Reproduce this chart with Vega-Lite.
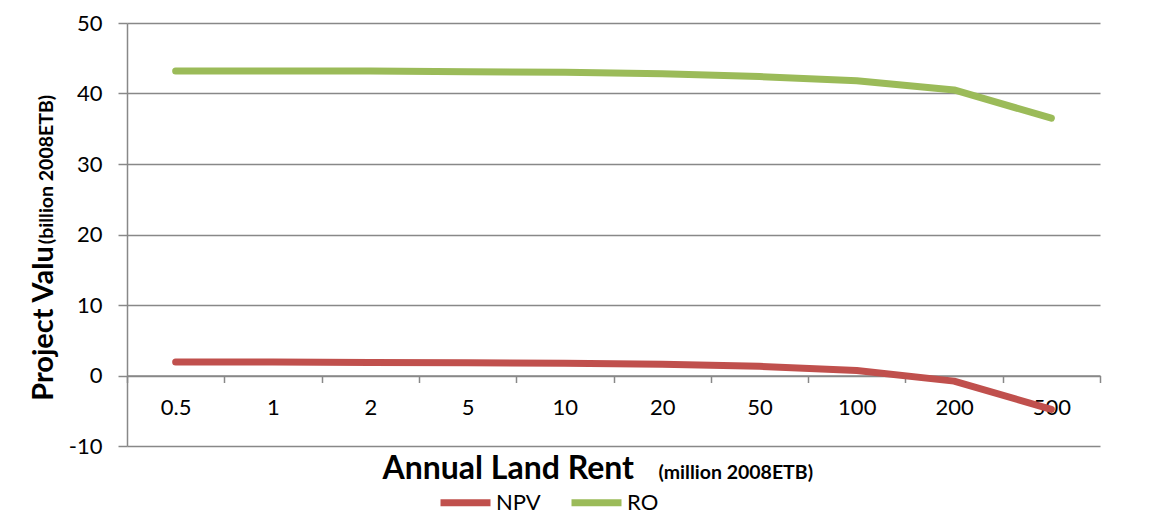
{
  "$schema": "https://vega.github.io/schema/vega-lite/v6.json",
  "width": 973,
  "height": 423,
  "autosize": {"type": "none"},
  "padding": {"left": 127, "top": 23, "right": 54, "bottom": 74},
  "background": "white",
  "config": {
    "view": {"stroke": null},
    "font": "Lato",
    "axis": {
      "labelFont": "Lato",
      "titleFont": "Lato",
      "labelColor": "#000000",
      "titleColor": "#000000",
      "domainColor": "#888888",
      "tickColor": "#888888",
      "gridColor": "#888888",
      "domainWidth": 1.5,
      "tickWidth": 1.5,
      "gridWidth": 1.5
    }
  },
  "data": {
    "values": [
      {"rent": "0.5", "series": "NPV", "value": 1.9},
      {"rent": "1", "series": "NPV", "value": 1.9},
      {"rent": "2", "series": "NPV", "value": 1.85},
      {"rent": "5", "series": "NPV", "value": 1.8},
      {"rent": "10", "series": "NPV", "value": 1.75},
      {"rent": "20", "series": "NPV", "value": 1.6},
      {"rent": "50", "series": "NPV", "value": 1.3},
      {"rent": "100", "series": "NPV", "value": 0.7},
      {"rent": "200", "series": "NPV", "value": -0.8},
      {"rent": "500", "series": "NPV", "value": -4.8},
      {"rent": "0.5", "series": "RO", "value": 43.2},
      {"rent": "1", "series": "RO", "value": 43.2},
      {"rent": "2", "series": "RO", "value": 43.2},
      {"rent": "5", "series": "RO", "value": 43.1},
      {"rent": "10", "series": "RO", "value": 43.0},
      {"rent": "20", "series": "RO", "value": 42.8},
      {"rent": "50", "series": "RO", "value": 42.4},
      {"rent": "100", "series": "RO", "value": 41.8},
      {"rent": "200", "series": "RO", "value": 40.5},
      {"rent": "500", "series": "RO", "value": 36.5}
    ]
  },
  "layer": [
    {
      "transform": [{"filter": "datum.series === 'NPV'"}],
      "mark": {"type": "line", "strokeWidth": 7, "strokeCap": "round", "strokeJoin": "round"},
      "encoding": {
        "x": {
          "field": "rent",
          "type": "ordinal",
          "sort": ["0.5", "1", "2", "5", "10", "20", "50", "100", "200", "500"],
          "bandPosition": 0.5,
          "scale": {"type": "band", "paddingInner": 0, "paddingOuter": 0},
          "axis": {
            "orient": "bottom",
            "offset": -70.5,
            "labelAngle": 0,
            "labelFontSize": 22,
            "labelPadding": 15,
            "tickSize": 7,
            "tickBand": "extent",
            "grid": false,
            "title": "Annual Land Rent",
            "titleFontSize": 32,
            "titleFontWeight": "bold",
            "titleAlign": "left",
            "titleBaseline": "alphabetic",
            "titleX": 255,
            "titleY": 102.5
          }
        },
        "y": {
          "field": "value",
          "type": "quantitative",
          "scale": {"domain": [-10, 50], "nice": false, "zero": false},
          "axis": {
            "orient": "left",
            "values": [-10, 0, 10, 20, 30, 40, 50],
            "labelExpr": "datum.value < 0 ? '-' + abs(datum.value) : datum.label",
            "grid": true,
            "labelFontSize": 22,
            "labelPadding": 16,
            "tickSize": 9,
            "title": "Project Valu",
            "titleFontSize": 29,
            "titleFontWeight": "bold",
            "titleAngle": -90,
            "titleAlign": "center",
            "titleBaseline": "alphabetic",
            "titleX": -75,
            "titleY": 300
          }
        },
        "color": {
          "field": "series",
          "type": "nominal",
          "scale": {"domain": ["NPV", "RO"], "range": ["#C0504D", "#9BBB59"]},
          "legend": {
            "title": null,
            "orient": "none",
            "direction": "horizontal",
            "legendX": 310,
            "legendY": 451,
            "symbolType": "stroke",
            "symbolSize": 2500,
            "symbolStrokeWidth": 7,
            "labelFont": "Lato",
            "labelFontSize": 22,
            "labelColor": "#000000",
            "labelOffset": 2,
            "columnPadding": 16
          }
        }
      }
    },
    {
      "transform": [{"filter": "datum.series === 'RO'"}],
      "mark": {"type": "line", "strokeWidth": 7, "strokeCap": "round", "strokeJoin": "round"},
      "encoding": {
        "x": {
          "field": "rent",
          "type": "ordinal",
          "sort": ["0.5", "1", "2", "5", "10", "20", "50", "100", "200", "500"],
          "bandPosition": 0.5,
          "axis": {
            "orient": "bottom",
            "offset": -70.5,
            "labels": false,
            "ticks": false,
            "domain": false,
            "grid": false,
            "title": "(million 2008ETB)",
            "titleFontSize": 19.5,
            "titleFontWeight": "bold",
            "titleAlign": "left",
            "titleBaseline": "alphabetic",
            "titleX": 531,
            "titleY": 102.5
          }
        },
        "y": {
          "field": "value",
          "type": "quantitative",
          "axis": {
            "orient": "left",
            "labels": false,
            "ticks": false,
            "domain": false,
            "grid": false,
            "title": "(billion 2008ETB)",
            "titleFontSize": 19.5,
            "titleFontWeight": "bold",
            "titleAngle": -90,
            "titleAlign": "center",
            "titleBaseline": "alphabetic",
            "titleX": -75,
            "titleY": 146
          }
        },
        "color": {"field": "series", "type": "nominal"}
      }
    }
  ],
  "resolve": {"axis": {"x": "independent", "y": "independent"}}
}
